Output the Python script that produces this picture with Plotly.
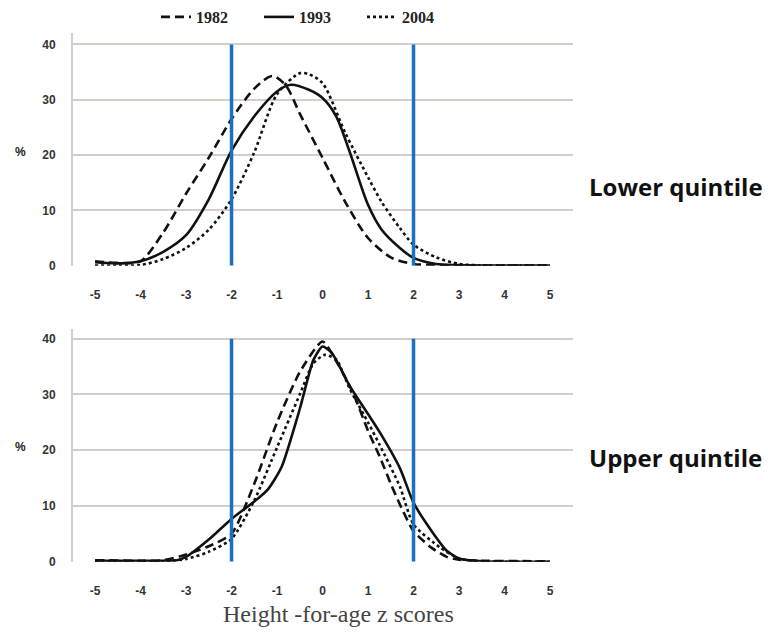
import plotly.graph_objects as go

# ---- data ----
years = ["1982", "1993", "2004"]

# Lower quintile
low_x_1982 = [-5, -4.5, -4, -3.5, -3, -2.5, -2, -1.5, -1.1, -0.8, -0.5, 0, 0.5, 1, 1.5, 2, 2.5, 3, 4, 5]
low_y_1982 = [0.8, 0.5, 0.8, 6, 13, 19.5, 26.5, 32, 34.3, 32.5, 27.5, 19.5, 11.5, 5, 1.5, 0.3, 0.1, 0, 0, 0]

low_x_1993 = [-5, -4.5, -4, -3.5, -3, -2.5, -2, -1.5, -1, -0.7, -0.3, 0, 0.3, 0.6, 1, 1.3, 1.7, 2, 2.5, 3, 4, 5]
low_y_1993 = [0.6, 0.4, 0.8, 2.5, 5.5, 12, 20.8, 27, 31.5, 32.7, 31.8, 30.3, 27, 20.5, 11, 6.5, 3.2, 1.4, 0.3, 0.1, 0, 0]

low_x_2004 = [-5, -4.5, -4, -3.5, -3, -2.5, -2, -1.5, -1, -0.5, -0.3, 0, 0.5, 1, 1.3, 1.7, 2, 2.5, 3, 3.5, 4, 5]
low_y_2004 = [0, 0, 0.1, 1.2, 3.2, 6.5, 12, 20.5, 31, 34.8, 34.6, 33, 24, 16, 11.5, 6.8, 3.8, 1.5, 0.3, 0.05, 0, 0]

# Upper quintile
up_x_1982 = [-5, -4, -3.5, -3, -2.5, -2, -1.5, -1, -0.5, 0, 0.3, 0.67, 1, 1.26, 1.5, 1.7, 2, 2.4, 2.73, 3, 3.5, 5]
up_y_1982 = [0.3, 0.2, 0.3, 1.3, 2.8, 5, 14, 25, 34, 39.5, 36, 30.3, 23.5, 18.8, 14, 10.3, 5.5, 2.5, 0.9, 0.4, 0.2, 0.1]

up_x_1993 = [-5, -4, -3.2, -3, -2.5, -2, -1.5, -1.2, -0.9, -0.5, -0.2, 0, 0.2, 0.6, 1, 1.26, 1.7, 2, 2.4, 2.73, 3, 3.5, 5]
up_y_1993 = [0.2, 0.2, 0.3, 0.9, 4, 7.7, 10.8, 13, 17, 27.4, 36.2, 38.6, 37.5, 31.5, 26.5, 23.2, 16.8, 10.6, 5.5, 2, 0.6, 0.1, 0]

up_x_2004 = [-5, -3.5, -3, -2.5, -2, -1.5, -1, -0.5, -0.2, 0.05, 0.3, 0.6, 1, 1.26, 1.7, 2, 2.58, 3, 3.5, 5]
up_y_2004 = [0, 0.1, 0.5, 1.8, 4.1, 11, 20.5, 30, 35.6, 37.1, 36.3, 31, 25, 20.9, 13.5, 6.7, 2.6, 0.6, 0.1, 0]

x_ticks = [-5, -4, -3, -2, -1, 0, 1, 2, 3, 4, 5]
x_tick_text = ["-5", "-4", "-3", "-2", "-1", "0", "1", "2", "3", "4", "5"]
y_ticks = [0, 10, 20, 30, 40]
cutoffs = [-2, 2]
panel_titles = ["Lower quintile", "Upper quintile"]
x_title = "Height -for-age z scores"

W, H = 768, 636
def py(p):
    return 1 - p / H
def px(p):
    return p / W

dashes = {"1982": "9px,5px", "1993": "solid", "2004": "dot"}
BLUE = "#1a70c6"
GRID = "#d5cdc9"

fig = go.Figure()
series = [
    ("1982", low_x_1982, low_y_1982, up_x_1982, up_y_1982),
    ("1993", low_x_1993, low_y_1993, up_x_1993, up_y_1993),
    ("2004", low_x_2004, low_y_2004, up_x_2004, up_y_2004),
]
for name, lx, ly, ux, uy in series:
    fig.add_trace(go.Scatter(x=lx, y=ly, mode="lines", name=name, legendgroup=name,
                             line=dict(color="#111111", width=2.6, dash=dashes[name],
                                       shape="spline", smoothing=0.8),
                             xaxis="x", yaxis="y"))
    fig.add_trace(go.Scatter(x=ux, y=uy, mode="lines", name=name, legendgroup=name,
                             showlegend=False,
                             line=dict(color="#111111", width=2.6, dash=dashes[name],
                                       shape="spline", smoothing=0.6),
                             xaxis="x2", yaxis="y2"))

# cutoff lines
for xr, yr in [("x", "y"), ("x2", "y2")]:
    for c in cutoffs:
        fig.add_shape(type="line", xref=xr, yref=yr, x0=c, x1=c, y0=0, y1=40,
                      line=dict(color=BLUE, width=3.5), layer="above")

xrange = [-5.484, 5.505]
xdom = [px(73), px(573)]
tickfont = dict(family="Liberation Sans", size=12, color="#333333", weight="bold")
xax = dict(range=xrange, domain=xdom, tickvals=x_ticks, ticktext=x_tick_text,
           showgrid=False, zeroline=False,
           showline=False, ticks="", tickfont=tickfont, ticklabelstandoff=20, fixedrange=True)
yax_common = dict(tickvals=y_ticks, showgrid=True, gridcolor=GRID, gridwidth=2, zeroline=False,
                  showline=True, linecolor=GRID, linewidth=2, ticks="", tickfont=tickfont,
                  ticklabelstandoff=13, fixedrange=True)

fig.update_layout(
    width=W, height=H, margin=dict(l=0, r=0, t=0, b=0),
    paper_bgcolor="white", plot_bgcolor="white",
    xaxis=dict(**xax, anchor="y"),
    xaxis2=dict(**xax, anchor="y2"),
    yaxis=dict(**yax_common, range=[0, 42.14], domain=[py(268), py(32)], anchor="x"),
    yaxis2=dict(**yax_common, range=[0, 41.77], domain=[py(568), py(332)], anchor="x2"),
    showlegend=True,
    legend=dict(orientation="h", x=px(156), y=py(16), xanchor="left", yanchor="middle",
                font=dict(family="Liberation Serif", size=16, color="#222222", weight="bold"),
                bgcolor="rgba(0,0,0,0)", entrywidth=58, tracegroupgap=0),
)

for yy in [153, 452]:
    fig.add_annotation(xref="paper", yref="paper", x=px(20), y=py(yy), text="%",
                       xanchor="center", yanchor="middle", showarrow=False,
                       font=dict(family="Liberation Sans", size=12, color="#222222", weight="bold"))
for t, yy in zip(panel_titles, [188, 462]):
    fig.add_annotation(xref="paper", yref="paper", x=px(587), y=py(yy), text=t,
                       xanchor="left", yanchor="middle", showarrow=False,
                       font=dict(family="Open Sans", size=24, color="#111111", weight="bold"))
fig.add_annotation(xref="paper", yref="paper", x=px(338), y=py(621), text=x_title,
                   xanchor="center", yanchor="middle", showarrow=False,
                   font=dict(family="Liberation Serif", size=24, color="#444444"))

fig.write_html("out.html", config={"displayModeBar": False},
               post_script="document.body.style.margin='0';document.body.style.overflow='hidden';")
